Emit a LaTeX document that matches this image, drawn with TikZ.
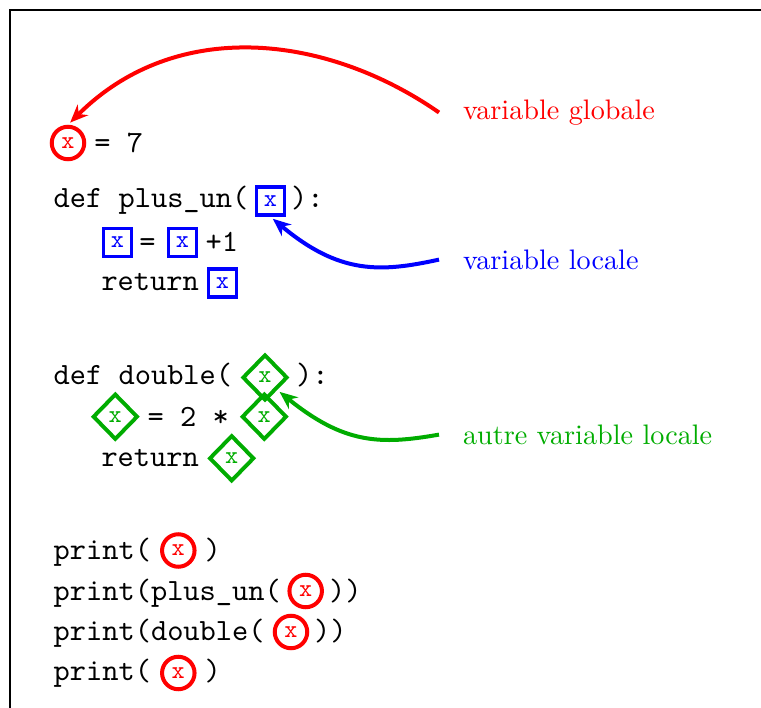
\documentclass[tikz,border=0pt]{standalone}
\usepackage{fontspec}
\setmainfont{lmroman10-regular.otf}
\setmonofont{lmmono10-regular.otf}
\usetikzlibrary{shapes.geometric,arrows.meta}
\definecolor{dgreen}{RGB}{0,172,0}
\begin{document}
\begin{tikzpicture}[x=1pt,y=-1pt,
  code/.style={font=\fontsize{30.9}{36}\selectfont\ttfamily, inner sep=0pt, anchor=base west},
  vx/.style={font=\fontsize{25}{30}\selectfont\ttfamily, inner sep=0pt},
  gvar/.style={vx, circle, draw=red, text=red, line width=4pt, minimum size=32.5pt},
  lvar/.style={vx, rectangle, draw=blue, text=blue, line width=3.7pt, minimum size=28pt},
  dvar/.style={vx, diamond, aspect=1, draw=dgreen, text=dgreen, line width=3.9pt, minimum width=45pt, minimum height=46pt},
  lbl/.style={font=\fontsize{28.2}{34}\selectfont, inner sep=0pt, outer xsep=24pt, anchor=west},
  arr/.style={line width=4pt, -{Stealth[length=18pt,width=15pt]}, shorten >=3pt}
]
\useasboundingbox (0,0) rectangle (761,708);
% frame (partly outside the picture)
\draw[line width=2.2pt] (10.3,720) -- (10.3,10.3) -- (775,10.3);

% global x = 7
\node[gvar] (c0) at (68,143) {x};
\node[code] (t0) at (94.2,153) {= 7};

% def plus_un
\node[code] (t1) at (53.5,208) {def plus\_un(};
\node[lvar] (b1) at (270.5,201) {x};
\node[code] (t2) at (291,208) {):};
\node[lvar] (b2) at (117.5,242.5) {x};
\node[code] (t3) at (139.2,252) {=};
\node[lvar] (b3) at (182.5,242.5) {x};
\node[code] (t4) at (205.5,252) {+1};
\node[code] (t5) at (101.3,291) {return};
\node[lvar] (b4) at (222.5,283) {x};

% def double
\node[code] (t6) at (53.5,385) {def double(};
\node[dvar] (d1) at (265,377.5) {x};
\node[code] (t7) at (296,385) {):};
\node[dvar] (d2) at (115.3,416.7) {x};
\node[code] (t8) at (147.5,427) {= 2 *};
\node[dvar] (d3) at (264.3,416.7) {x};
\node[code] (t9) at (101.3,467) {return};
\node[dvar] (d4) at (231.7,458.3) {x};

% prints
\node[code] (p1) at (53.5,559) {print(};
\node[gvar] (c1) at (178.3,550.5) {x};
\node[code] (q1) at (204.3,559) {)};
\node[code] (p2) at (53.5,600) {print(plus\_un(};
\node[gvar] (c2) at (305.7,591) {x};
\node[code] (q2) at (329,600) {))};
\node[code] (p3) at (53.5,640) {print(double(};
\node[gvar] (c3) at (291,632) {x};
\node[code] (q3) at (314,640) {))};
\node[code] (p4) at (53.5,680) {print(};
\node[gvar] (c4) at (178.3,673) {x};
\node[code] (q4) at (204.3,680) {)};

% labels
\node[lbl, text=red] (lg) at (439,112.5) {variable globale};
\node[lbl, text=blue] (ll) at (439,259.6) {variable locale};
\node[lbl, text=dgreen] (la) at (439,434.6) {autre variable locale};

% arrows
\draw[arr, red] (lg.west) .. controls (326,34) and (176,17) .. (c0.north);
\draw[arr, blue] (ll.west) .. controls (380.3,272.5) and (339.4,274.5) .. (b1.south);
\draw[arr, dgreen] (la.west) .. controls (380.3,445) and (344,444) .. (d1.south east);
\end{tikzpicture}
\end{document}
